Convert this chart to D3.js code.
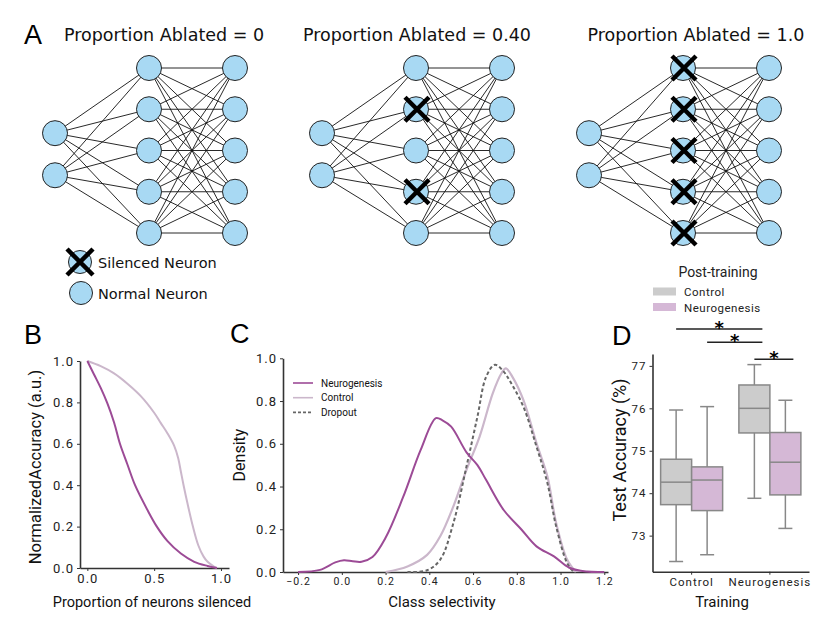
<!DOCTYPE html>
<html>
<head>
<meta charset="utf-8">
<script src="https://cdn.jsdelivr.net/npm/d3@7"></script>
<style>
  body { margin: 0; background: #fff; }
  svg { display: block; }
  .tick text { font-family: Roboto, sans-serif; fill: #222; }
</style>
</head>
<body>
<div id="chart"></div>
<script>
// ---- data ----
// panel A: networks
layerSizes = [2, 5, 5]
inputPos = [-0.42, 0.6]
netTitles = ["Proportion Ablated = 0", "Proportion Ablated = 0.40", "Proportion Ablated = 1.0"]
netAblated = [[], [1, 3], [0, 1, 2, 3, 4]]

// panel B: accuracy vs proportion silenced
bNeuroX = [0, 0.05, 0.1, 0.15, 0.2, 0.244, 0.3, 0.357, 0.45, 0.52, 0.6, 0.7, 0.8, 0.9, 0.97]
bNeuroY = [1, 0.935, 0.87, 0.795, 0.703, 0.6, 0.5, 0.4, 0.28, 0.2, 0.13, 0.07, 0.03, 0.01, 0]
bCtrlX = [0, 0.1, 0.2, 0.3, 0.4, 0.5, 0.55, 0.6, 0.65, 0.68, 0.7, 0.72, 0.75, 0.79, 0.83, 0.87, 0.9, 0.95, 0.97]
bCtrlY = [1, 0.975, 0.94, 0.89, 0.83, 0.75, 0.70, 0.65, 0.59, 0.53, 0.465, 0.40, 0.31, 0.2, 0.11, 0.055, 0.03, 0.006, 0]
bTicksX = [0, 0.5, 1.0]
bTicksY = [0, 0.2, 0.4, 0.6, 0.8, 1.0]

// panel C: class selectivity densities
cNeuroX = [-0.2, -0.1, -0.03, 0.01, 0.05, 0.09, 0.14, 0.2, 0.28, 0.36, 0.43, 0.46, 0.5, 0.57, 0.62, 0.66, 0.74, 0.82, 0.89, 0.97, 1.04, 1.12, 1.2]
cNeuroY = [0, 0.01, 0.045, 0.055, 0.05, 0.048, 0.07, 0.16, 0.35, 0.57, 0.72, 0.71, 0.68, 0.56, 0.5, 0.43, 0.29, 0.2, 0.12, 0.073, 0.02, 0.002, 0]
cCtrlX = [0.2, 0.3, 0.39, 0.45, 0.51, 0.57, 0.63, 0.69, 0.73, 0.75, 0.78, 0.83, 0.89, 0.94, 0.98, 1.03, 1.07]
cCtrlY = [0, 0.026, 0.08, 0.167, 0.307, 0.478, 0.634, 0.836, 0.93, 0.953, 0.913, 0.805, 0.603, 0.447, 0.229, 0.058, 0]
cDropX = [0.3, 0.39, 0.45, 0.51, 0.57, 0.62, 0.66, 0.7, 0.74, 0.77, 0.83, 0.89, 0.94, 0.98, 1.03, 1.06]
cDropY = [0, 0.008, 0.058, 0.229, 0.494, 0.727, 0.914, 0.97, 0.938, 0.891, 0.774, 0.587, 0.416, 0.213, 0.042, 0]
cTicksX = [-0.2, 0, 0.2, 0.4, 0.6, 0.8, 1.0, 1.2]
cTicksY = [0, 0.2, 0.4, 0.6, 0.8, 1.0]
cLegend = ["Neurogenesis", "Control", "Dropout"]

// panel D: test accuracy boxplots
dTraining = ["Control", "Neurogenesis"]
dPost = ["Control", "Neurogenesis"]
// [training, post, whiskerLow, q1, median, q3, whiskerHigh]
dBoxes = [
  ["Control", "Control", 72.39, 73.73, 74.26, 74.80, 75.96],
  ["Control", "Neurogenesis", 72.55, 73.59, 74.31, 74.62, 76.04],
  ["Neurogenesis", "Control", 73.88, 75.42, 76.0, 76.55, 77.03],
  ["Neurogenesis", "Neurogenesis", 73.17, 73.96, 74.73, 75.43, 76.19]
]
dTicksY = [73, 74, 75, 76, 77]

var neuroCol = "#9c4b96", ctrlCol = "#cbb7cb", dropCol = "#666666"
var boxFill = {"Control": "#cccccc", "Neurogenesis": "#d5b8d6"}

svg = d3.select("#chart").append("svg")
  .attr("width", 822).attr("height", 622)

// ================= Panel A =================
svg.append("text").attr("x", 24).attr("y", 44)
  .style("font-family", "Liberation Sans, sans-serif").style("font-size", "27px")
  .text("A")

netX = d3.scaleLinear().domain([0, 1]).range([0, 534])   // network offset
layerX = [55, 149, 235]
nodeY = d3.scaleLinear().domain([-2, 2]).range([68, 233])

netTitles.forEach(function(t, k) {
  var off = netX(k / 2)
  var g = svg.append("g").attr("transform", `translate(${off},0)`)
  svg.append("text").attr("x", [164, 417, 696][k]).attr("y", 41)
    .attr("text-anchor", "middle")
    .style("font-family", "DejaVu Sans, sans-serif").style("font-size", "17.5px")
    .style("fill", "#111")
    .text(t)

  var layers = layerSizes.map(function(n, li) {
    return d3.range(n).map(function(i) {
      var p = li === 0 ? inputPos[i] : i - 2
      return {x: layerX[li], y: nodeY(p), layer: li, idx: i}
    })
  })
  // edges
  for (var li = 0; li < layers.length - 1; li++) {
    layers[li].forEach(function(a) {
      layers[li + 1].forEach(function(b) {
        g.append("line").attr("x1", a.x).attr("y1", a.y).attr("x2", b.x).attr("y2", b.y)
          .style("stroke", "#111").style("stroke-width", 0.9)
      })
    })
  }
  var nodes = [].concat.apply([], layers)
  g.selectAll("circle").data(nodes).join("circle")
    .attr("cx", d => d.x).attr("cy", d => d.y).attr("r", 12.5)
    .style("fill", "#a8d9f3").style("stroke", "#222").style("stroke-width", 1)
  nodes.filter(d => d.layer === 1 && netAblated[k].includes(d.idx)).forEach(function(d) {
    drawX(g, d.x + 1, d.y, 12)
  })
})

function drawX(g, x, y, s) {
  g.append("path").attr("d", `M${x - s},${y - s}L${x + s},${y + s}M${x + s},${y - s}L${x - s},${y + s}`)
    .style("stroke", "#000").style("stroke-width", 4.5).style("fill", "none")
}

// legend A
svg.append("circle").attr("cx", 80).attr("cy", 262).attr("r", 11.5)
  .style("fill", "#a8d9f3").style("stroke", "#222")
drawX(svg, 80, 262, 13)
svg.append("circle").attr("cx", 81).attr("cy", 293).attr("r", 11.5)
  .style("fill", "#a8d9f3").style("stroke", "#222")
svg.append("text").attr("x", 98).attr("y", 267.5).text("Silenced Neuron")
  .style("font-family", "DejaVu Sans, sans-serif").style("font-size", "14.5px").style("fill", "#111")
svg.append("text").attr("x", 98).attr("y", 299).text("Normal Neuron")
  .style("font-family", "DejaVu Sans, sans-serif").style("font-size", "14.5px").style("fill", "#111")

// common axis styling
function styleAxis(sel, fs) {
  sel.select(".domain").style("stroke", "#333").style("stroke-width", 1.6)
  sel.selectAll(".tick line").style("stroke", "#333")
  sel.selectAll(".tick text").style("font-size", fs).style("letter-spacing", "1px")
}
function panelLetter(t, x, y) {
  svg.append("text").attr("x", x).attr("y", y).text(t)
    .style("font-family", "Liberation Sans, sans-serif").style("font-size", "27px")
}

// ================= Panel B =================
panelLetter("B", 24, 344)
xB = d3.scaleLinear().domain([-0.055, 1.06]).range([80, 229])
yB = d3.scaleLinear().domain([0, 1.0]).range([568, 361])

svg.append("g").attr("transform", "translate(0,568)")
  .call(d3.axisBottom(xB).tickValues(bTicksX).tickFormat(d3.format(".1f")).tickSize(3).tickSizeOuter(0))
  .call(s => styleAxis(s, "13px"))
svg.append("g").attr("transform", "translate(80,0)")
  .call(d3.axisLeft(yB).tickValues(bTicksY).tickFormat(d3.format(".1f")).tickSize(3).tickSizeOuter(0))
  .call(s => styleAxis(s, "13px"))

lineB = d3.line().x(d => xB(d[0])).y(d => yB(d[1])).curve(d3.curveCatmullRom.alpha(0.5))
svg.append("path").datum(d3.zip(bCtrlX, bCtrlY)).attr("d", lineB)
  .style("fill", "none").style("stroke", ctrlCol).style("stroke-width", 2)
svg.append("path").datum(d3.zip(bNeuroX, bNeuroY)).attr("d", lineB)
  .style("fill", "none").style("stroke", neuroCol).style("stroke-width", 2)

svg.append("text").attr("x", 152).attr("y", 607).attr("text-anchor", "middle")
  .style("font-family", "Roboto, sans-serif").style("font-size", "14.5px").style("fill", "#111")
  .text("Proportion of neurons silenced")
svg.append("text").attr("transform", "translate(41,467) rotate(-90)").attr("text-anchor", "middle")
  .style("font-family", "Roboto, sans-serif").style("font-size", "16.5px").style("fill", "#111")
  .text("NormalizedAccuracy (a.u.)")

// ================= Panel C =================
panelLetter("C", 230, 343)
xC = d3.scaleLinear().domain([-0.269, 1.217]).range([283, 608])
yC = d3.scaleLinear().domain([0, 1.0]).range([572, 358.3])

svg.append("g").attr("transform", "translate(0,572)")
  .call(d3.axisBottom(xC).tickValues(cTicksX).tickFormat(d3.format(".1f")).tickSize(3).tickSizeOuter(0))
  .call(s => styleAxis(s, "10.5px"))
svg.append("g").attr("transform", "translate(283,0)")
  .call(d3.axisLeft(yC).tickValues(cTicksY).tickFormat(d3.format(".1f")).tickSize(3).tickSizeOuter(0))
  .call(s => styleAxis(s, "13px"))

lineC = d3.line().x(d => xC(d[0])).y(d => yC(d[1])).curve(d3.curveCatmullRom.alpha(0.5))
svg.append("path").datum(d3.zip(cCtrlX, cCtrlY)).attr("d", lineC)
  .style("fill", "none").style("stroke", ctrlCol).style("stroke-width", 2.2)
svg.append("path").datum(d3.zip(cDropX, cDropY)).attr("d", lineC)
  .style("fill", "none").style("stroke", dropCol).style("stroke-width", 2).style("stroke-dasharray", "3.5,2.5")
svg.append("path").datum(d3.zip(cNeuroX, cNeuroY)).attr("d", lineC)
  .style("fill", "none").style("stroke", neuroCol).style("stroke-width", 2)

// legend C
var legStyles = [[neuroCol, null], [ctrlCol, null], [dropCol, "3,2"]]
cLegend.forEach(function(name, i) {
  var y = 383 + i * 14.7
  svg.append("line").attr("x1", 293).attr("x2", 313).attr("y1", y).attr("y2", y)
    .style("stroke", legStyles[i][0]).style("stroke-width", 1.6)
    .style("stroke-dasharray", legStyles[i][1])
  svg.append("text").attr("x", 321).attr("y", y + 3.5).text(name)
    .style("font-family", "Roboto, sans-serif").style("font-size", "10px").style("fill", "#111")
})

svg.append("text").attr("x", 442).attr("y", 607).attr("text-anchor", "middle")
  .style("font-family", "Roboto, sans-serif").style("font-size", "15px").style("fill", "#111")
  .text("Class selectivity")
svg.append("text").attr("transform", "translate(245,455) rotate(-90)").attr("text-anchor", "middle")
  .style("font-family", "Roboto, sans-serif").style("font-size", "16px").style("fill", "#111")
  .text("Density")

// ================= Panel D =================
panelLetter("D", 612, 345)
xD = d3.scaleBand().domain(dTraining).range([652.5, 809]).padding(0)
xDsub = d3.scaleBand().domain(dPost).range([0, 62])
yD = d3.scaleLinear().domain([72.15, 77.28]).range([571.7, 354])

svg.append("g").attr("transform", "translate(0,571.7)")
  .call(d3.axisBottom(xD).tickSize(3).tickSizeOuter(0))
  .call(s => styleAxis(s, "11.5px"))
svg.append("g").attr("transform", "translate(652.5,0)")
  .call(d3.axisLeft(yD).tickValues(dTicksY).tickFormat(d3.format("d")).tickSize(3).tickSizeOuter(0))
  .call(s => styleAxis(s, "11.5px"))

var boxes = svg.append("g").selectAll("g").data(dBoxes).join("g")
  .attr("transform", d => `translate(${xD(d[0]) + xD.bandwidth() / 2 - 31 + xDsub(d[1])},0)`)
var bw = xDsub.bandwidth()
boxes.append("line").attr("x1", bw / 2).attr("x2", bw / 2)
  .attr("y1", d => yD(d[2])).attr("y2", d => yD(d[6]))
  .style("stroke", "#888").style("stroke-width", 1.5)
boxes.append("line").attr("x1", bw / 2 - 7).attr("x2", bw / 2 + 7)
  .attr("y1", d => yD(d[6])).attr("y2", d => yD(d[6]))
  .style("stroke", "#888").style("stroke-width", 1.5)
boxes.append("line").attr("x1", bw / 2 - 7).attr("x2", bw / 2 + 7)
  .attr("y1", d => yD(d[2])).attr("y2", d => yD(d[2]))
  .style("stroke", "#888").style("stroke-width", 1.5)
boxes.append("rect").attr("x", 0).attr("width", bw)
  .attr("y", d => yD(d[5])).attr("height", d => yD(d[3]) - yD(d[5]))
  .style("fill", d => boxFill[d[1]]).style("stroke", "#888").style("stroke-width", 1.5)
boxes.append("line").attr("x1", 0).attr("x2", bw)
  .attr("y1", d => yD(d[4])).attr("y2", d => yD(d[4]))
  .style("stroke", "#888").style("stroke-width", 1.5)

// significance bars (training-post pairs)
sigPairs = [
  [["Control", "Control"], ["Neurogenesis", "Control"], 329],
  [["Control", "Neurogenesis"], ["Neurogenesis", "Control"], 342.3],
  [["Neurogenesis", "Control"], ["Neurogenesis", "Neurogenesis"], 359.3]
]
function boxCenter(p) { return xD(p[0]) + xD.bandwidth() / 2 - 31 + xDsub(p[1]) + bw / 2 }
sigPairs.forEach(function(s) {
  var x1 = boxCenter(s[0]), x2 = boxCenter(s[1]) + 8
  svg.append("line").attr("x1", x1).attr("x2", x2).attr("y1", s[2]).attr("y2", s[2])
    .style("stroke", "#222").style("stroke-width", 1.5)
  svg.append("text").attr("x", (x1 + x2) / 2).attr("y", s[2] + 5).attr("text-anchor", "middle")
    .style("font-family", "DejaVu Sans, sans-serif").style("font-size", "18px").style("font-weight", "bold")
    .text("*")
})

// legend D
svg.append("text").attr("x", 718).attr("y", 277).attr("text-anchor", "middle")
  .style("font-family", "Roboto, sans-serif").style("font-size", "14px").style("fill", "#222")
  .text("Post-training")
dPost.forEach(function(p, i) {
  svg.append("rect").attr("x", 653).attr("y", 287.5 + i * 15.5).attr("width", 23).attr("height", 8)
    .style("fill", boxFill[p])
  svg.append("text").attr("x", 684).attr("y", 296 + i * 15.5).text(p)
    .style("font-family", "Roboto, sans-serif").style("font-size", "11.5px").style("fill", "#222")
    .style("letter-spacing", "0.5px")
})

svg.append("text").attr("x", 722).attr("y", 607).attr("text-anchor", "middle")
  .style("font-family", "Roboto, sans-serif").style("font-size", "15px").style("fill", "#111")
  .text("Training")
svg.append("text").attr("transform", "translate(626,450) rotate(-90)").attr("text-anchor", "middle")
  .style("font-family", "Roboto, sans-serif").style("font-size", "18px").style("fill", "#111")
  .text("Test Accuracy (%)")
</script>
</body>
</html>
